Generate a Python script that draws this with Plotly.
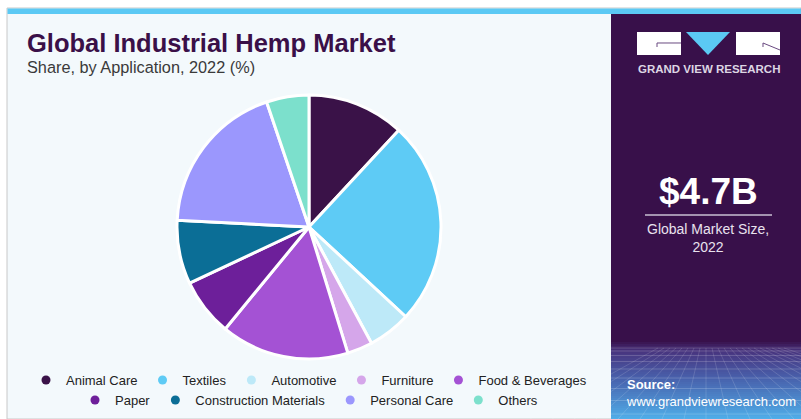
import plotly.graph_objects as go

# ---- data ----
categories = ["Animal Care", "Textiles", "Automotive", "Furniture", "Food & Beverages",
              "Paper", "Construction Materials", "Personal Care", "Others"]
shares = [11.9, 25.0, 5.25, 3.1, 15.7, 7.05, 7.8, 19.0, 5.2]
colors = ["#3a1248", "#5ecbf5", "#bde9f8", "#d5a6ea", "#a452d4",
          "#6d1f9a", "#0b6e96", "#9b97fd", "#7ce0cc"]
row1 = categories[:5]
market_size = "$4.7B"
market_label = "Global Market Size,<br>2022"

W, H = 801, 419
def px(x):
    return x / W
def py(y):
    return 1 - y / H

fig = go.Figure()

# pie
cx, cy, r = 309, 227, 132
fig.add_trace(go.Pie(
    labels=categories, values=shares, sort=False, direction="clockwise", rotation=0,
    marker=dict(colors=colors, line=dict(color="white", width=3)),
    textinfo="none", hoverinfo="label+percent", showlegend=False,
    domain=dict(x=[px(cx - r), px(cx + r)], y=[py(cy + r), py(cy - r)]),
))

# legend entries (circle symbols)
for name, col in zip(categories, colors):
    fig.add_trace(go.Scatter(
        x=[None], y=[None], mode="markers", name=name,
        marker=dict(color=col, size=9, symbol="circle"),
        legend="legend" if name in row1 else "legend2",
    ))

shapes = []
# card
shapes.append(dict(type="rect", xref="paper", yref="paper", x0=px(7), x1=px(801), y0=py(419), y1=py(8),
                   fillcolor="#f3f9fc", line=dict(color="#c8c8c8", width=1), layer="below"))
shapes.append(dict(type="rect", xref="paper", yref="paper", x0=px(7.5), x1=px(801), y0=py(14), y1=py(8.5),
                   fillcolor="#5bc9f4", line=dict(width=0), layer="below"))
# right panel
shapes.append(dict(type="rect", xref="paper", yref="paper", x0=px(611), x1=px(801), y0=py(419), y1=py(14),
                   fillcolor="#38104a", line=dict(width=0), layer="below"))

# gradient at panel bottom
def hex2rgb(h):
    h = h.lstrip("#")
    return tuple(int(h[i:i + 2], 16) for i in (0, 2, 4))
stops = [(340, "#38104a"), (350, "#48347e"), (378, "#4862ad"), (419, "#50b0ea")]
y = 340
while y < 419:
    for (ya, ca), (yb, cb) in zip(stops[:-1], stops[1:]):
        if ya <= y < yb:
            t = (y - ya) / (yb - ya)
            a, b = hex2rgb(ca), hex2rgb(cb)
            c = tuple(round(a[i] + (b[i] - a[i]) * t) for i in range(3))
            break
    shapes.append(dict(type="rect", xref="paper", yref="paper", x0=px(611), x1=px(801),
                       y0=py(min(y + 2, 419)), y1=py(y), fillcolor="rgb(%d,%d,%d)" % c,
                       line=dict(width=0), layer="below"))
    y += 2
# faint perspective grid
gy = 348
step = 3
while gy < 419:
    shapes.append(dict(type="line", xref="paper", yref="paper", x0=px(611), x1=px(801), y0=py(gy), y1=py(gy),
                       line=dict(color="rgba(255,255,255,0.18)", width=1), layer="below"))
    gy += step
    step += 1.5
for i in range(-8, 14):
    xt = 706 + i * 6
    xb = 706 + i * 22
    shapes.append(dict(type="line", xref="paper", yref="paper", x0=px(xt), x1=px(xb), y0=py(348), y1=py(419),
                       line=dict(color="rgba(255,255,255,0.14)", width=1), layer="below"))

# logo
shapes.append(dict(type="rect", xref="paper", yref="paper", x0=px(637), x1=px(681), y0=py(55), y1=py(32),
                   fillcolor="white", line=dict(width=0)))
shapes.append(dict(type="path", xref="paper", yref="paper",
                   path="M %f,%f L %f,%f L %f,%f Z" % (px(686), py(32), px(730), py(32), px(708), py(55)),
                   fillcolor="#5bc9f4", line=dict(width=0)))
shapes.append(dict(type="rect", xref="paper", yref="paper", x0=px(736), x1=px(780), y0=py(55), y1=py(32),
                   fillcolor="white", line=dict(width=0)))
shapes.append(dict(type="path", xref="paper", yref="paper",
                   path="M %f,%f L %f,%f L %f,%f" % (px(681), py(43), px(657), py(43), px(657), py(47)),
                   line=dict(color="#6a4a80", width=1)))
shapes.append(dict(type="path", xref="paper", yref="paper",
                   path="M %f,%f L %f,%f L %f,%f" % (px(763), py(47), px(763), py(43), px(780), py(50)),
                   line=dict(color="#6a4a80", width=1)))
# divider under big number
shapes.append(dict(type="line", xref="paper", yref="paper", x0=px(645), x1=px(772), y0=py(215), y1=py(215),
                   line=dict(color="#c9bfd3", width=1.5)))

font_main = "Liberation Sans, Arial, sans-serif"
def note(text, x, y, size, color, xanchor="left", align="left"):
    return dict(text=text, x=px(x), y=py(y), xref="paper", yref="paper", xanchor=xanchor,
                yanchor="middle", align=align, showarrow=False,
                font=dict(family=font_main, size=size, color=color))

annotations = [
    note("<b>Global Industrial Hemp Market</b>", 25, 43, 25.5, "#3a1048"),
    note("Share, by Application, 2022 (%)", 25, 67, 16.3, "#3a3a3a"),
    note("<b>GRAND VIEW RESEARCH</b>", 708.5, 69, 11.5, "#ddd6e3", xanchor="center"),
    note("<b>" + market_size + "</b>", 708, 192, 37, "white", xanchor="center"),
    note(market_label, 708, 238, 14, "#e8e2ee", xanchor="center", align="center"),
    note("<b>Source:</b><br>www.grandviewresearch.com", 624, 393, 13, "white"),
]

legend_common = dict(orientation="h", xanchor="center", yanchor="middle", bgcolor="rgba(0,0,0,0)",
                     font=dict(family=font_main, size=13, color="#222222"), itemwidth=30,
                     tracegroupgap=0)

fig.update_layout(
    width=W, height=H, margin=dict(l=0, r=0, t=0, b=0),
    paper_bgcolor="white", plot_bgcolor="rgba(0,0,0,0)",
    xaxis=dict(visible=False), yaxis=dict(visible=False),
    shapes=shapes, annotations=annotations,
    legend=dict(x=px(309), y=py(380), **legend_common),
    legend2=dict(x=px(309), y=py(400), **legend_common),
)

fig.write_html("out.html")
